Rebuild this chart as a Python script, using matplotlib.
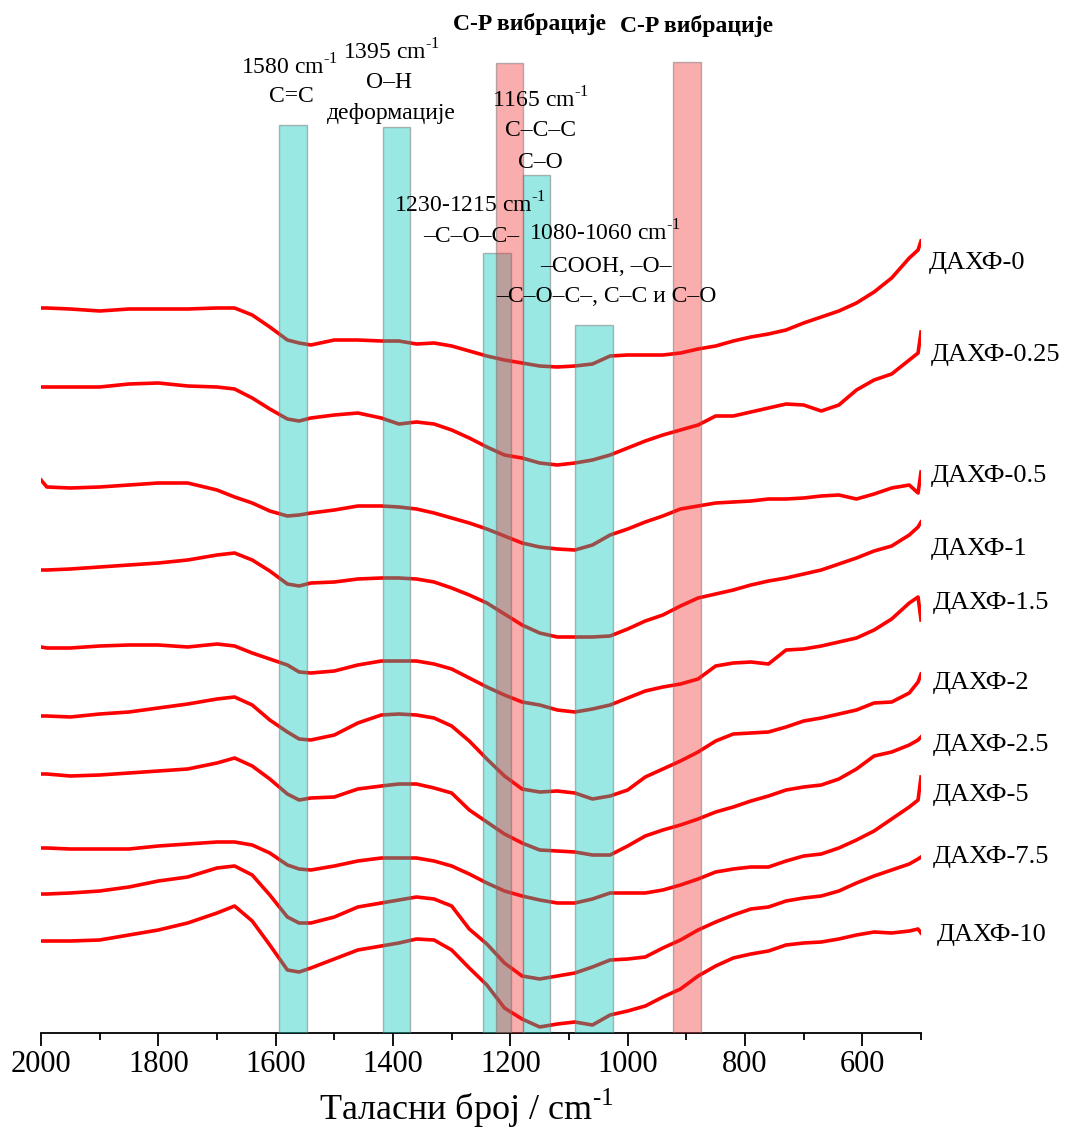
import numpy as np
import matplotlib
matplotlib.use("Agg")
import matplotlib.pyplot as plt

plt.rcParams["font.family"] = ["Liberation Serif", "DejaVu Serif"]
plt.rcParams["mathtext.fontset"] = "custom"
plt.rcParams["mathtext.rm"] = "Liberation Serif"

# wavenumber grid (cm-1) shared by all spectra
wn = [2000, 1990, 1950, 1900, 1850, 1800, 1750, 1700,
      1670, 1640, 1610, 1580, 1560, 1540, 1500,
      1460, 1420, 1390, 1360, 1330, 1300,
      1270, 1240, 1210, 1180, 1150, 1120, 1090, 1060, 1030, 1000,
      970, 940, 910, 880, 850, 820, 790, 760, 730, 700,
      670, 640, 610, 580, 550, 520, 505, 500]

# stacked transmittance, arbitrary units (offset already included)
t_0 = [725, 725, 724, 722, 724, 724, 724, 725,
       725, 718, 706, 693, 690, 688, 693,
       693, 692, 692, 689, 690, 687,
       682, 677, 673, 670, 667, 666, 667, 669, 677, 678,
       678, 678, 680, 684, 687, 692, 696, 699, 703, 710,
       716, 722, 730, 741, 755, 775, 783, 792]
t_025 = [646, 646, 646, 646, 649, 650, 647, 646,
         644, 635, 624, 614, 612, 615, 618,
         620, 615, 609, 611, 609, 603,
         595, 586, 578, 575, 570, 568, 570, 573, 578, 585,
         592, 598, 603, 608, 617, 617, 621, 625, 629, 628,
         622, 628, 643, 653, 659, 673, 680, 701]
t_05 = [553, 546, 545, 546, 548, 550, 550, 543,
        536, 530, 522, 517, 518, 520, 523,
        527, 527, 526, 524, 520, 515,
        510, 504, 497, 490, 486, 484, 483, 488, 498, 504,
        511, 517, 524, 527, 530, 531, 532, 534, 534, 535,
        537, 538, 534, 539, 545, 548, 540, 561]
t_1 = [463, 463, 464, 466, 468, 470, 473, 478,
       480, 473, 462, 449, 447, 450, 451,
       454, 455, 455, 454, 451, 445,
       438, 430, 419, 408, 400, 396, 396, 396, 397, 404,
       412, 418, 427, 435, 439, 443, 448, 452, 455, 459,
       463, 469, 475, 482, 487, 498, 506, 511]
t_15 = [386, 385, 385, 387, 388, 388, 386, 389,
        387, 380, 374, 368, 361, 360, 362,
        368, 372, 372, 372, 369, 364,
        355, 346, 338, 331, 328, 323, 321, 324, 328, 335,
        342, 346, 349, 354, 367, 370, 371, 369, 383, 384,
        387, 391, 395, 403, 414, 430, 436, 413]
t_2 = [317, 317, 316, 319, 321, 325, 329, 334,
       336, 328, 313, 301, 294, 293, 298,
       310, 318, 319, 318, 315, 307,
       292, 274, 257, 244, 241, 242, 240, 234, 237, 243,
       256, 264, 272, 281, 292, 299, 300, 301, 306, 312,
       315, 319, 323, 330, 331, 340, 351, 359]
t_25 = [259, 259, 257, 258, 260, 262, 264, 270,
        275, 267, 254, 239, 233, 235, 236,
        244, 247, 249, 249, 245, 240,
        223, 211, 199, 190, 183, 182, 181, 178, 178, 187,
        197, 203, 208, 214, 221, 226, 232, 237, 243, 246,
        248, 254, 264, 277, 281, 288, 293, 296]
t_5 = [185, 185, 184, 184, 184, 187, 189, 191,
       191, 188, 180, 168, 164, 163, 167,
       172, 175, 175, 175, 172, 167,
       159, 150, 142, 137, 133, 130, 130, 134, 140, 140,
       140, 143, 148, 154, 161, 164, 166, 166, 172, 177,
       179, 185, 193, 202, 214, 226, 233, 256]
t_75 = [139, 139, 140, 142, 146, 152, 156, 165,
        167, 158, 138, 116, 110, 110, 116,
        126, 130, 133, 136, 134, 127,
        104, 89, 70, 57, 54, 57, 60, 66, 73, 74,
        76, 85, 93, 103, 111, 118, 124, 126, 132, 135,
        137, 142, 150, 157, 163, 169, 174, 176]
t_10 = [92, 92, 92, 93, 98, 103, 110, 120,
        127, 112, 88, 63, 61, 65, 74,
        83, 87, 90, 94, 93, 83,
        65, 48, 25, 14, 6, 9, 11, 8, 18, 22,
        27, 36, 44, 57, 67, 75, 79, 82, 88, 90,
        91, 94, 98, 101, 100, 102, 104, 100]

spectra = [t_0, t_025, t_05, t_1, t_15, t_2, t_25, t_5, t_75, t_10]
names = ["ДАХФ-0", "ДАХФ-0.25", "ДАХФ-0.5", "ДАХФ-1", "ДАХФ-1.5",
         "ДАХФ-2", "ДАХФ-2.5", "ДАХФ-5", "ДАХФ-7.5", "ДАХФ-10"]
name_y = [770, 678, 557, 484, 430, 350, 288, 238, 176, 98]
name_x = [487, 483, 483, 483, 480, 480, 480, 480, 480, 474]

# highlighted bands: (high edge, low edge, top)
cyan_bands = [(1595, 1547, 908), (1417, 1371, 906), (1247, 1199, 780),
              (1179, 1133, 858), (1089, 1025, 708)]
red_bands = [(1225, 1178, 970), (923, 875, 971)]

CM = r"cm$^{\text{-1}}$"

fig = plt.figure(figsize=(10.68, 11.31), dpi=100)
ax = fig.add_axes([41 / 1068, 98 / 1131, 880 / 1068, 1033 / 1131])

for t in spectra:
    ax.plot(wn, t, color="#ff0000", lw=2.6, zorder=2, solid_joinstyle="round")

for hi, lo, top in cyan_bands:
    ax.bar((hi + lo) / 2, top, width=hi - lo, bottom=0,
           color=(0.0, 0.78, 0.73, 0.4), edgecolor=(0.45, 0.45, 0.45, 0.5),
           linewidth=1.0, zorder=3)
for hi, lo, top in red_bands:
    ax.bar((hi + lo) / 2, top, width=hi - lo, bottom=0,
           color=(0.94, 0.16, 0.16, 0.38), edgecolor=(0.45, 0.45, 0.45, 0.5),
           linewidth=1.0, zorder=3)

for name, x, y in zip(names, name_x, name_y):
    ax.text(x, y, name, fontsize=19, ha="left", va="center", clip_on=False)

# band assignments
fs = 17
ax.text(1577, 966, "1580 " + CM, fontsize=fs, ha="center", va="center")
ax.text(1574, 936, "C=C", fontsize=fs, ha="center", va="center")
ax.text(1403, 981, "1395 " + CM, fontsize=fs, ha="center", va="center")
ax.text(1407, 951, "O–H", fontsize=fs, ha="center", va="center")
ax.text(1403, 919, "деформације", fontsize=fs, ha="center", va="center")
ax.text(1148, 933, "1165 " + CM, fontsize=fs, ha="center", va="center")
ax.text(1148, 902, "C–C–C", fontsize=fs, ha="center", va="center")
ax.text(1148, 871, "C–O", fontsize=fs, ha="center", va="center")
ax.text(1269, 828, "1230-1215 " + CM, fontsize=fs, ha="center", va="center")
ax.text(1267, 797, "–C–O–C–", fontsize=fs, ha="center", va="center")
ax.text(1039, 800, "1080-1060 " + CM, fontsize=fs, ha="center", va="center")
ax.text(1037, 766, "–COOH, –O–", fontsize=fs, ha="center", va="center")
ax.text(1037, 736, "–C–O–C–, C–C и C–O", fontsize=fs, ha="center", va="center")
ax.text(1168, 1009, "C-P вибрације", fontsize=fs, fontweight="bold",
        ha="center", va="center", clip_on=False)
ax.text(882, 1007, "C-P вибрације", fontsize=fs, fontweight="bold",
        ha="center", va="center", clip_on=False)

ax.set_xlim(2000, 500)
ax.set_ylim(0, 1033)
ax.set_xticks([2000, 1800, 1600, 1400, 1200, 1000, 800, 600])
ax.set_xticks(np.arange(1900, 499, -200), minor=True)
ax.tick_params(axis="x", which="major", direction="out", length=9, width=1.3,
               labelsize=22, pad=3)
ax.tick_params(axis="x", which="minor", direction="out", length=5, width=1.3)
ax.set_yticks([])
for side in ("left", "right", "top"):
    ax.spines[side].set_visible(False)
ax.spines["bottom"].set_linewidth(1.3)
ax.set_xlabel("Таласни број / " + CM, fontsize=26)
ax.xaxis.set_label_coords(0.483, -0.052)

fig.savefig("out.png", dpi=100)
